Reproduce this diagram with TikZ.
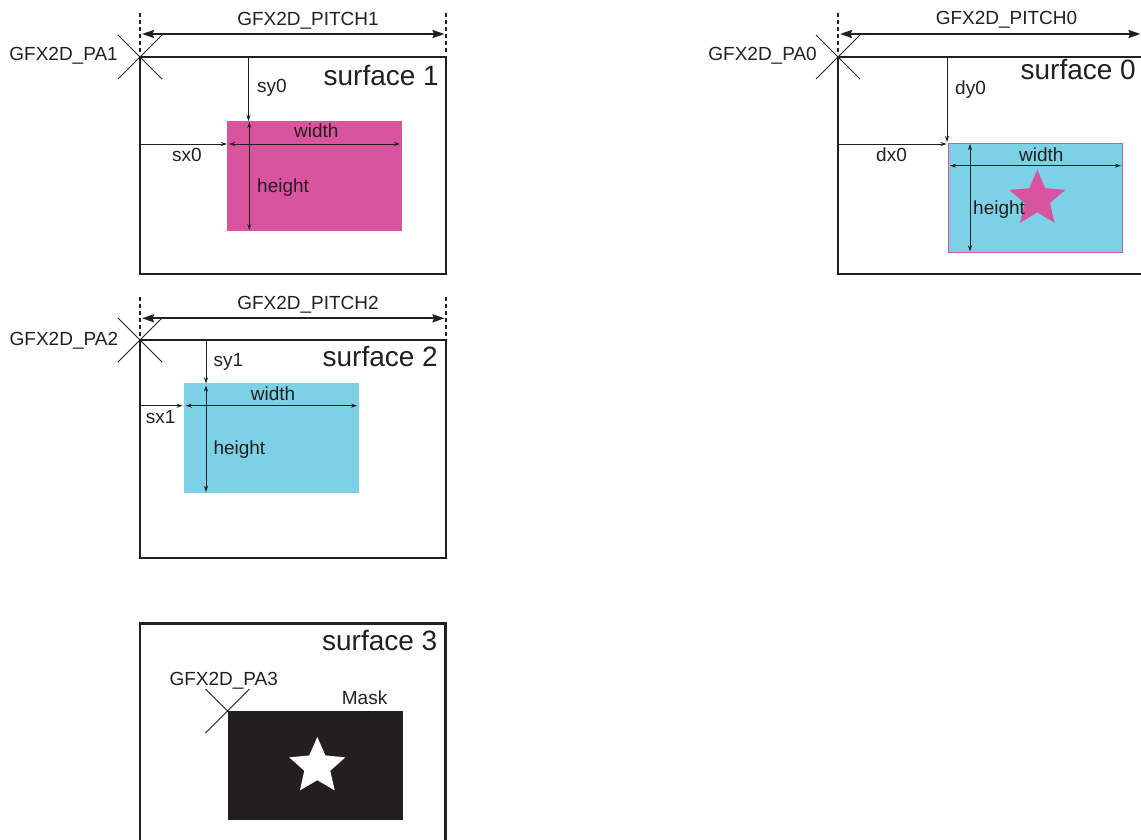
\documentclass[tikz,border=0pt]{standalone}
\usepackage{fontspec}
\setmainfont{Liberation Sans}
\usetikzlibrary{arrows.meta}
\definecolor{ink}{RGB}{35,31,32}
\definecolor{pinkc}{RGB}{217,84,158}
\definecolor{bluec}{RGB}{125,209,230}
\begin{document}
\begin{tikzpicture}[x=1pt,y=-1pt,
  box/.style={draw=ink, line width=2.5pt, inner sep=0, outer sep=0, anchor=north west},
  area/.style={inner sep=0, anchor=north west, outer sep=0},
  dashln/.style={draw=ink, line width=2pt, dash pattern=on 4pt off 3pt},
  pitcharrow/.style={draw=ink, line width=2pt, {Stealth[length=12pt,width=8pt,inset=1.5pt]}-{Stealth[length=12pt,width=8pt,inset=1.5pt]}},
  onearrow/.style={draw=ink, line width=0.9pt, -{Stealth[length=6pt,width=4pt]}},
  twoarrow/.style={draw=ink, line width=0.9pt, {Stealth[length=6pt,width=4pt]}-{Stealth[length=6pt,width=4pt]}},
  crossln/.style={draw=ink, line width=1pt},
  lab/.style={text=ink, font=\fontsize{19}{21}\selectfont, inner sep=0},
  ttl/.style={text=ink, font=\fontsize{28}{30}\selectfont, inner sep=0}
]
\useasboundingbox (0,0) rectangle (1141,840);
\clip (0,0) rectangle (1141,840);

% ---------------- surface 1 ----------------
\node[box, minimum width=306pt, minimum height=217pt] (s1) at (140,57) {};
\node[area, fill=pinkc, minimum width=175pt, minimum height=110pt] (r1) at (227,121) {};
\coordinate (d1a) at (140,13); \coordinate (d1b) at (140,53);
\coordinate (d1c) at (446,13); \coordinate (d1d) at (446,53);
\draw[dashln] (d1a) -- (d1b);
\draw[dashln] (d1c) -- (d1d);
\draw[crossln] (s1.north west) +(-22,-22) -- +(22,22) +(-22,22) -- +(22,-22);
\coordinate (p1l) at (142,34); \coordinate (p1r) at (444.5,34);
\draw[pitcharrow] (p1l) -- (p1r);
\node[lab, anchor=base] (t1p) at (308,26) {GFX2D\_PITCH1};
\node[lab, anchor=base east] (t1a) at (118,61) {GFX2D\_PA1};
\node[ttl, anchor=base east] (t1s) at (439,86) {surface 1};
\coordinate (sy0a) at (248.5,57); \coordinate (sy0b) at (248.5,121);
\draw[onearrow] (sy0a) -- (sy0b);
\coordinate (sx0a) at (140,144); \coordinate (sx0b) at (227,144);
\draw[onearrow] (sx0a) -- (sx0b);
\coordinate (w1a) at (229,144); \coordinate (w1b) at (400,144);
\draw[twoarrow] (w1a) -- (w1b);
\coordinate (h1a) at (249.3,122); \coordinate (h1b) at (249.3,230);
\draw[twoarrow] (h1a) -- (h1b);
\node[lab, anchor=base west] (l1y) at (257,93) {sy0};
\node[lab, anchor=base west] (l1x) at (172,162) {sx0};
\node[lab, anchor=base west] (l1w) at (294,138) {width};
\node[lab, anchor=base west] (l1h) at (257,193) {height};

% ---------------- surface 0 ----------------
\node[box, minimum width=340pt, minimum height=217pt] (s0) at (838,57) {};
\node[area, fill=bluec, draw=pinkc, line width=0.6pt, minimum width=174.5pt, minimum height=109pt] (r0) at (948,143) {};
\coordinate (d0a) at (838,13); \coordinate (d0b) at (838,53);
\draw[dashln] (d0a) -- (d0b);
\draw[crossln] (s0.north west) +(-22,-22) -- +(22,22) +(-22,22) -- +(22,-22);
\coordinate (p0l) at (840,34); \coordinate (p0r) at (1140.5,34);
\draw[pitcharrow] (p0l) -- (p0r);
\node[lab, anchor=base] (t0p) at (1006.5,25) {GFX2D\_PITCH0};
\node[lab, anchor=base east] (t0a) at (817,61) {GFX2D\_PA0};
\node[ttl, anchor=base east] (t0s) at (1136,80) {surface 0};
\coordinate (dy0a) at (947,57); \coordinate (dy0b) at (947,142);
\draw[onearrow] (dy0a) -- (dy0b);
\coordinate (dx0a) at (838,144); \coordinate (dx0b) at (946.5,144);
\draw[onearrow] (dx0a) -- (dx0b);
\coordinate (st0) at (1037.3,199);
\fill[pinkc] (st0) +(270:29.5) -- +(306:13.3) -- +(342:29.5) -- +(18:13.3) -- +(54:29.5) -- +(90:13.3) -- +(126:29.5) -- +(162:13.3) -- +(198:29.5) -- +(234:13.3) -- cycle;
\coordinate (w0a) at (950,165.7); \coordinate (w0b) at (1121,165.7);
\draw[twoarrow] (w0a) -- (w0b);
\coordinate (h0a) at (970,144); \coordinate (h0b) at (970,251.5);
\draw[twoarrow] (h0a) -- (h0b);
\node[lab, anchor=base west] (l0y) at (955,95) {dy0};
\node[lab, anchor=base west] (l0x) at (876,162) {dx0};
\node[lab, anchor=base west] (l0w) at (1019,161) {width};
\node[lab, anchor=base west] (l0h) at (973,214.5) {height};

% ---------------- surface 2 ----------------
\node[box, minimum width=306pt, minimum height=218pt] (s2) at (140,340) {};
\node[area, fill=bluec, minimum width=175pt, minimum height=109.5pt] (r2) at (184,383.3) {};
\coordinate (d2a) at (140,297); \coordinate (d2b) at (140,336);
\coordinate (d2c) at (446,297); \coordinate (d2d) at (446,336);
\draw[dashln] (d2a) -- (d2b);
\draw[dashln] (d2c) -- (d2d);
\draw[crossln] (s2.north west) +(-22,-22) -- +(22,22) +(-22,22) -- +(22,-22);
\coordinate (p2l) at (142,318.3); \coordinate (p2r) at (444.5,318.3);
\draw[pitcharrow] (p2l) -- (p2r);
\node[lab, anchor=base] (t2p) at (308,309.3) {GFX2D\_PITCH2};
\node[lab, anchor=base east] (t2a) at (118.3,345) {GFX2D\_PA2};
\node[ttl, anchor=base east] (t2s) at (438,366.7) {surface 2};
\coordinate (sy1a) at (206,340); \coordinate (sy1b) at (206,383.5);
\draw[onearrow] (sy1a) -- (sy1b);
\coordinate (sx1a) at (140,405.7); \coordinate (sx1b) at (182.5,405.7);
\draw[onearrow] (sx1a) -- (sx1b);
\coordinate (w2a) at (185.7,405.7); \coordinate (w2b) at (357,405.7);
\draw[twoarrow] (w2a) -- (w2b);
\coordinate (h2a) at (206,385.5); \coordinate (h2b) at (206,492);
\draw[twoarrow] (h2a) -- (h2b);
\node[lab, anchor=base west] (l2y) at (213.3,366.7) {sy1};
\node[lab, anchor=base west] (l2x) at (145.7,423.3) {sx1};
\node[lab, anchor=base west] (l2w) at (250.7,400) {width};
\node[lab, anchor=base west] (l2h) at (213.3,454.3) {height};

% ---------------- surface 3 ----------------
\node[box, minimum width=305.5pt, minimum height=240pt] (s3) at (140,623.5) {};
\coordinate (x3) at (227.5,711);
\draw[crossln] (x3) +(-22,-22) -- +(22,22) +(-22,22) -- +(22,-22);
\node[area, fill=ink, minimum width=175pt, minimum height=109pt] (r3) at (227.5,711) {};
\coordinate (st3) at (317.3,766.5);
\fill[white] (st3) +(270:29.5) -- +(306:13.7) -- +(342:29.5) -- +(18:13.7) -- +(54:29.5) -- +(90:13.7) -- +(126:29.5) -- +(162:13.7) -- +(198:29.5) -- +(234:13.7) -- cycle;
\node[ttl, anchor=base east] (t3s) at (437.5,650) {surface 3};
\node[lab, anchor=base west] (t3a) at (169.3,685) {GFX2D\_PA3};
\node[lab, anchor=base west] (t3m) at (341.7,704) {Mask};
\end{tikzpicture}
\end{document}
